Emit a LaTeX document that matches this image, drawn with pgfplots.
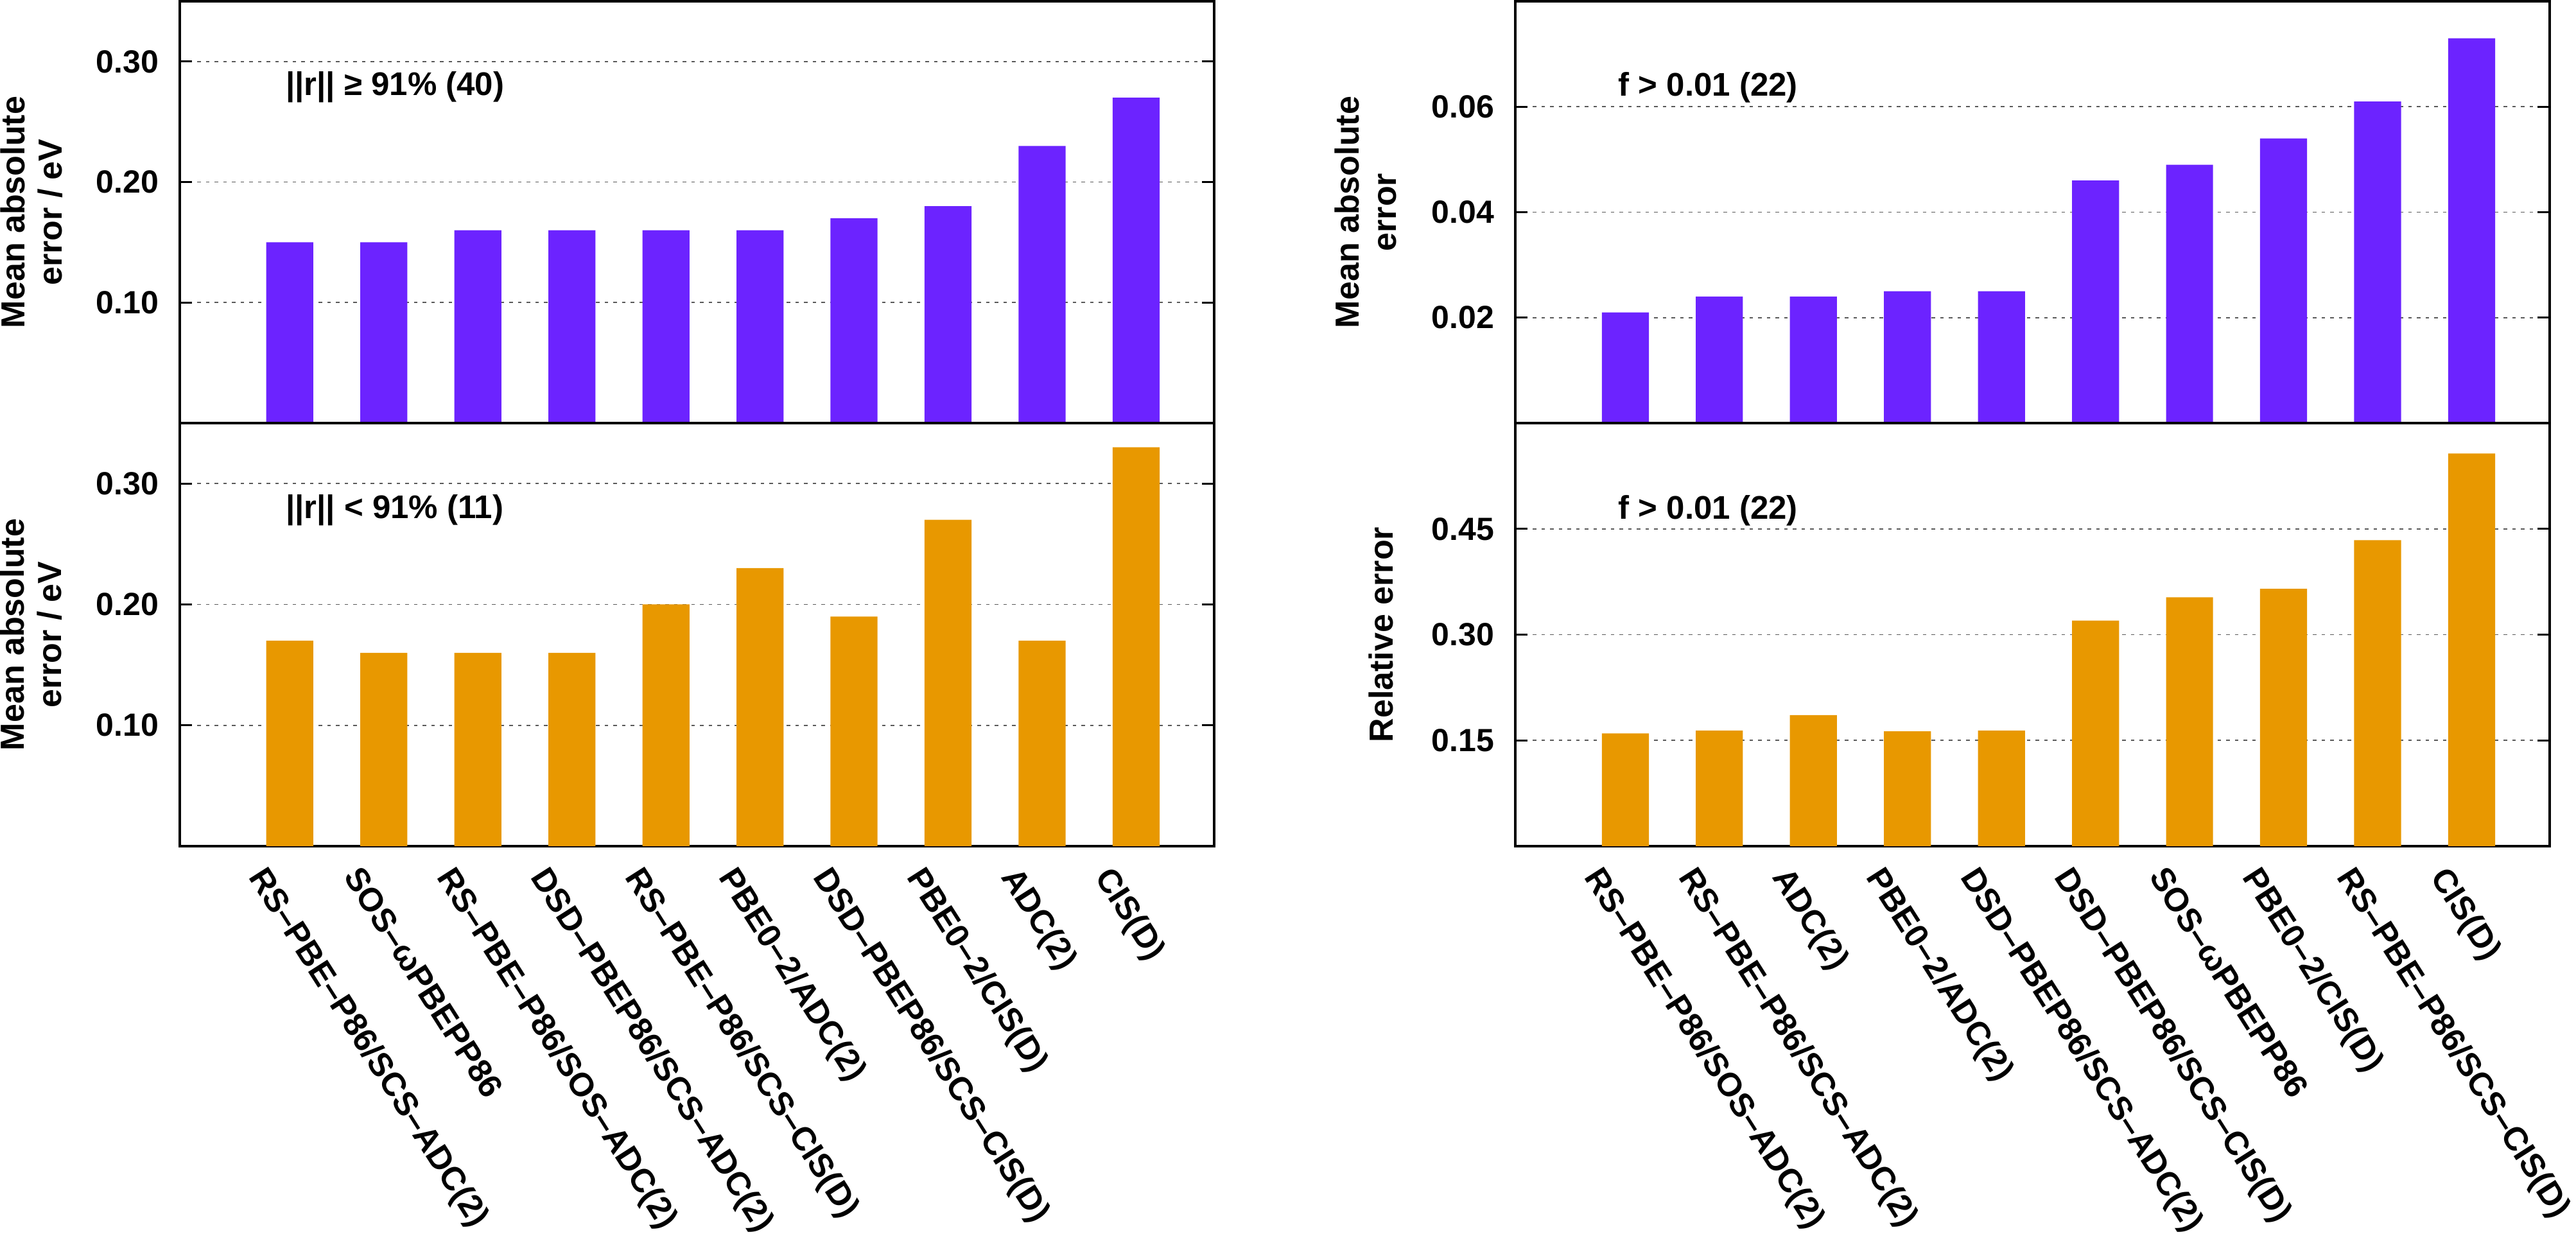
\documentclass[border=0pt]{standalone}
\usepackage{pgfplots}
\pgfplotsset{compat=1.18}
\usepackage{fontspec}
\setmainfont{Liberation Sans}
\definecolor{barpurple}{RGB}{108,35,255}
\definecolor{barorange}{RGB}{232,152,0}
\definecolor{gridgray}{RGB}{90,90,90}

\tikzset{annot/.style={anchor=west, inner sep=0pt, font=\bfseries\fontsize{10.2}{12}\selectfont}}

\pgfplotsset{
  panel/.style={
    scale only axis, width=322.2pt,
    xmin=-1.17, xmax=9.83, ymin=0,
    axis line style={line width=0.7pt},
    ymajorgrids,
    grid style={dash pattern=on 1.1pt off 1.6pt, line width=0.35pt, gridgray},
    tick align=inside, major tick length=3.8pt,
    every tick/.style={line width=0.6pt, black},
    xtick={0,...,9}, xtick style={draw=none},
    scaled y ticks=false,
    yticklabel style={font=\bfseries\fontsize{10}{12}\selectfont, inner sep=0pt, xshift=-6.4pt,
      /pgf/number format/fixed, /pgf/number format/fixed zerofill,
      /pgf/number format/precision=2, /pgf/number format/assume math mode=true},
    ylabel style={font=\bfseries\fontsize{10.4}{11.6}\selectfont, align=center, anchor=center},
  },
  toppanel/.style={panel, height=131.4pt, xticklabels={}},
  botpanel/.style={panel, height=131.8pt,
    xticklabel style={font=\bfseries\fontsize{10.3}{12}\selectfont, inner sep=0pt,
      xshift=-6.6pt, yshift=-5.4pt, rotate=-57.5, anchor=north west}},
}

\begin{document}
\begin{tikzpicture}
\path[use as bounding box] (0,0) rectangle (802.4pt,-386.4pt);

% top left
\begin{axis}[toppanel, at={(56pt,-0.4pt)}, anchor=north west,
  ymax=0.35, ytick={0.1,0.2,0.3},
  ylabel={Mean absolute\\error / eV},
  ylabel style={at={(axis description cs:-0.1434,0.5)}}]
\addplot[ybar, bar width=0.5, fill=barpurple, draw=none] coordinates {
(0,0.15) (1,0.15) (2,0.16) (3,0.16) (4,0.16) (5,0.16) (6,0.17) (7,0.18) (8,0.23) (9,0.27)};
\node[annot] at (axis cs:-0.05,0.279) {||r|| ≥ 91\% (40)};
\end{axis}

% bottom left
\begin{axis}[botpanel, at={(56pt,-131.8pt)}, anchor=north west,
  ymax=0.35, ytick={0.1,0.2,0.3},
  ylabel={Mean absolute\\error / eV},
  ylabel style={at={(axis description cs:-0.1440,0.5)}},
  xticklabels={RS–PBE–P86/SCS–ADC(2), SOS–ωPBEPP86, RS–PBE–P86/SOS–ADC(2), DSD–PBEP86/SCS–ADC(2), RS–PBE–P86/SCS–CIS(D), PBE0–2/ADC(2), DSD–PBEP86/SCS–CIS(D), PBE0–2/CIS(D), ADC(2), CIS(D)}]
\addplot[ybar, bar width=0.5, fill=barorange, draw=none] coordinates {
(0,0.17) (1,0.16) (2,0.16) (3,0.16) (4,0.20) (5,0.23) (6,0.19) (7,0.27) (8,0.17) (9,0.33)};
\node[annot] at (axis cs:-0.05,0.278) {||r|| < 91\% (11)};
\end{axis}

% top right
\begin{axis}[toppanel, at={(472pt,-0.4pt)}, anchor=north west,
  ymax=0.08, ytick={0.02,0.04,0.06},
  ylabel={Mean absolute\\error},
  ylabel style={at={(axis description cs:-0.1447,0.5)}}]
\addplot[ybar, bar width=0.5, fill=barpurple, draw=none] coordinates {
(0,0.021) (1,0.024) (2,0.024) (3,0.025) (4,0.025) (5,0.046) (6,0.049) (7,0.054) (8,0.061) (9,0.073)};
\node[annot] at (axis cs:-0.08,0.0636) {f > 0.01 (22)};
\end{axis}

% bottom right
\begin{axis}[botpanel, at={(472pt,-131.8pt)}, anchor=north west,
  ymax=0.6, ytick={0.15,0.30,0.45},
  ylabel={Relative error},
  ylabel style={at={(axis description cs:-0.1297,0.5)}},
  xticklabels={RS–PBE–P86/SOS–ADC(2), RS–PBE–P86/SCS–ADC(2), ADC(2), PBE0–2/ADC(2), DSD–PBEP86/SCS–ADC(2), DSD–PBEP86/SCS–CIS(D), SOS–ωPBEPP86, PBE0–2/CIS(D), RS–PBE–P86/SCS–CIS(D), CIS(D)}]
\addplot[ybar, bar width=0.5, fill=barorange, draw=none] coordinates {
(0,0.160) (1,0.164) (2,0.186) (3,0.163) (4,0.164) (5,0.320) (6,0.353) (7,0.365) (8,0.434) (9,0.557)};
\node[annot] at (axis cs:-0.08,0.476) {f > 0.01 (22)};
\end{axis}
\end{tikzpicture}
\end{document}
